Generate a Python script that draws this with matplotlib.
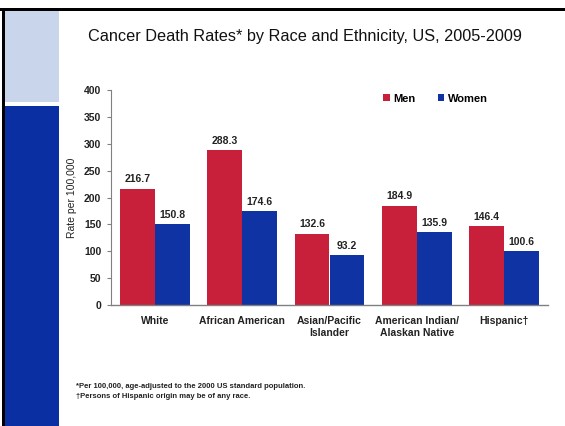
import matplotlib

matplotlib.use("Agg")
import matplotlib.pyplot as plt
import numpy as np
from matplotlib.patches import Rectangle

plt.rcParams["font.family"] = ["Liberation Sans", "DejaVu Sans"]

# Dados: taxas de mortalidade por câncer (por 100.000)
groups = ["White", "African American", "Asian/Pacific\nIslander",
          "American Indian/\nAlaskan Native", "Hispanic\u2020"]
men = [216.7, 288.3, 132.6, 184.9, 146.4]
women = [150.8, 174.6, 93.2, 135.9, 100.6]
yticks = [0, 50, 100, 150, 200, 250, 300, 350, 400]

RED = "#C8203A"
BLUE = "#0F33A3"
BAND_DARK = "#0A2FA2"
BAND_LIGHT = "#C9D5EB"
W, H = 565, 426

fig = plt.figure(figsize=(W / 100, H / 100), dpi=100)
fig.patch.set_facecolor("white")


def px(x, y, w, h):
    """Retângulo em pixels (origem no canto superior esquerdo)."""
    return [x / W, (H - y - h) / H, w / W, h / H]


# moldura e faixa lateral do slide
bg = fig.add_axes([0, 0, 1, 1])
bg.set_xlim(0, W)
bg.set_ylim(H, 0)
bg.axis("off")
bg.add_patch(Rectangle((0, 7.5), W, 3, color="black", lw=0))
bg.add_patch(Rectangle((2, 7.5), 3, H - 7.5, color="black", lw=0))
bg.add_patch(Rectangle((5, 10.5), 54, 91.5, color=BAND_LIGHT, lw=0))
bg.add_patch(Rectangle((5, 106), 54, H - 106, color=BAND_DARK, lw=0))

ax = fig.add_axes(px(111, 90, 437, 215))
x = np.arange(len(groups))
bw = 0.4
ax.bar(x - bw / 2, men, bw, color=RED, label="Men", zorder=2)
ax.bar(x + bw / 2, women, bw, color=BLUE, label="Women", zorder=2)

for xi, v in zip(x, men):
    ax.text(xi - bw / 2, v + 8, f"{v:.1f}", ha="center", va="bottom",
            fontsize=7.5, fontweight="bold", color="#222222")
for xi, v in zip(x, women):
    ax.text(xi + bw / 2, v + 8, f"{v:.1f}", ha="center", va="bottom",
            fontsize=7.5, fontweight="bold", color="#222222")

ax.set_xlim(-0.5, len(groups) - 0.5)
ax.set_ylim(0, 400)
ax.set_yticks(yticks)
ax.set_xticks(x)
ax.set_xticklabels(groups, fontsize=7.5, fontweight="bold", color="#222222",
                   linespacing=1.25)
ax.tick_params(axis="x", length=0, pad=8)
ax.tick_params(axis="y", length=3, width=0.8, color="#808080", pad=4,
               labelsize=7.5)
for lbl in ax.get_yticklabels():
    lbl.set_fontweight("bold")
    lbl.set_color("#222222")
for side in ["top", "right"]:
    ax.spines[side].set_visible(False)
ax.spines["left"].set_color("#808080")
ax.spines["bottom"].set_color("#808080")
ax.spines["left"].set_linewidth(0.8)
ax.spines["bottom"].set_linewidth(1.0)
ax.set_ylabel("Rate per 100,000", fontsize=7.5, color="#222222", labelpad=5)

ax.legend(loc="upper left", bbox_to_anchor=(0.6, 1.03), ncol=2, frameon=False,
          prop={"size": 8, "weight": "bold"}, handlelength=0.6,
          handleheight=0.6, handletextpad=0.3, columnspacing=2.0)

fig.text(305 / W, 1 - 37 / H, "Cancer Death Rates* by Race and Ethnicity, US, 2005-2009",
         ha="center", va="center", fontsize=11.7, color="#111111")
fig.text(76 / W, 1 - 386 / H,
         "*Per 100,000, age-adjusted to the 2000 US standard population.",
         ha="left", va="center", fontsize=5.5, fontweight="bold", color="#222222")
fig.text(76 / W, 1 - 397 / H,
         "\u2020Persons of Hispanic origin may be of any race.",
         ha="left", va="center", fontsize=5.5, fontweight="bold", color="#222222")

fig.savefig("out.png", dpi=100, facecolor="white")
